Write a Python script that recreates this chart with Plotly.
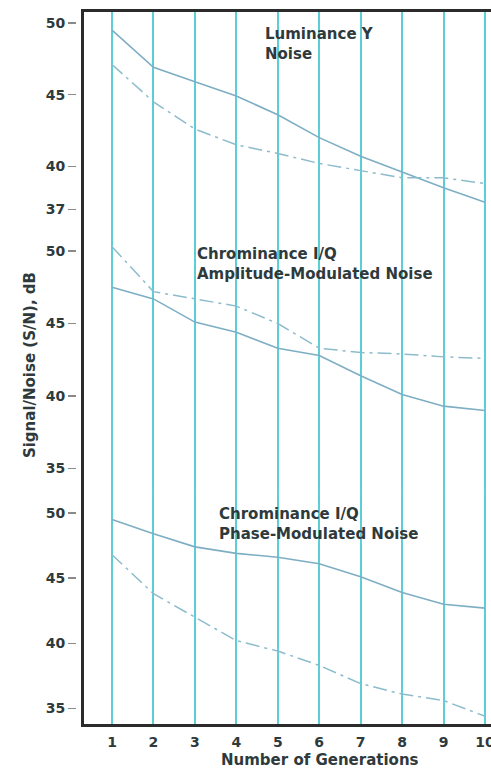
import plotly.graph_objects as go

# ---------------- data ----------------
generations = [1, 2, 3, 4, 5, 6, 7, 8, 9, 10]
gen_labels = ["1", "2", "3", "4", "5", "6", "7", "8", "9", "10"]

lum_solid = [49.5, 46.9, 45.9, 44.9, 43.6, 42.0, 40.7, 39.6, 38.5, 37.5]
lum_dashdot = [47.1, 44.5, 42.6, 41.5, 40.9, 40.2, 39.7, 39.2, 39.2, 38.8]

am_solid = [47.5, 46.7, 45.1, 44.4, 43.3, 42.8, 41.4, 40.1, 39.3, 39.0]
am_dashdot = [50.3, 47.2, 46.7, 46.2, 45.0, 43.3, 43.0, 42.9, 42.7, 42.6]

pm_solid = [49.5, 48.4, 47.4, 46.9, 46.6, 46.1, 45.1, 43.9, 43.0, 42.7]
pm_dashdot = [46.8, 43.8, 42.0, 40.2, 39.4, 38.3, 36.9, 36.1, 35.6, 34.4]

top_ticks = [37, 40, 45, 50]
mid_ticks = [35, 40, 45, 50]
bot_ticks = [35, 40, 45, 50]

panel_titles = [
    "Luminance Y<br>Noise",
    "Chrominance I/Q<br>Amplitude-Modulated Noise",
    "Chrominance I/Q<br>Phase-Modulated Noise",
]

# ---------------- style ----------------
FONT = "DejaVu Sans"
TXT = "#2e3a3c"
GRID = "#5ccfd6"
SPINE = "#2b2b2b"
LINE_SOLID = "#7eaec4"
LINE_DD = "#8cbccc"
DD = "14px,5px,3px,5px"

fig = go.Figure()

# empty trace to create the full-height frame subplot
fig.add_trace(go.Scatter(x=[], y=[], xaxis="x", yaxis="y", showlegend=False, hoverinfo="skip"))

panels = [
    ("y2", lum_solid, lum_dashdot),
    ("y3", am_solid, am_dashdot),
    ("y4", pm_solid, pm_dashdot),
]
for yax, solid, dd in panels:
    fig.add_trace(go.Scatter(x=generations, y=solid, xaxis="x", yaxis=yax, mode="lines",
                             line=dict(color=LINE_SOLID, width=1.6), showlegend=False))
    fig.add_trace(go.Scatter(x=generations, y=dd, xaxis="x", yaxis=yax, mode="lines",
                             line=dict(color=LINE_DD, width=1.5, dash=DD), showlegend=False))

tickfont = dict(family=FONT, size=14, color=TXT, weight="bold")

def panel_axis(domain, rng, ticks):
    return dict(domain=domain, range=rng, anchor="free", position=0,
                tickmode="array", tickvals=ticks, ticktext=[str(t) for t in ticks],
                ticks="outside", ticklen=8, tickwidth=1.5, tickcolor="#8a8a8a",
                showline=False, showgrid=False, zeroline=False,
                tickfont=tickfont, fixedrange=True)

fig.update_layout(
    width=491, height=768,
    margin=dict(l=76, r=0, t=12, b=44, autoexpand=False),
    paper_bgcolor="white", plot_bgcolor="white",
    showlegend=False,
    xaxis=dict(domain=[8 / 415, 1], range=[0.324, 10.145], anchor="y",
               tickmode="array", tickvals=generations, ticktext=gen_labels,
               showgrid=True, gridcolor=GRID, gridwidth=2,
               showline=True, linecolor=SPINE, linewidth=3, mirror=True,
               ticks="", ticklabelstandoff=3, ticklabeloverflow="allow",
               zeroline=False, tickfont=tickfont, fixedrange=True),
    yaxis=dict(domain=[0, 1], range=[0, 1], anchor="x",
               showline=True, linecolor=SPINE, linewidth=3,
               showticklabels=False, ticks="", showgrid=False, zeroline=False,
               fixedrange=True),
    yaxis2=panel_axis([0.6938, 1.0], [35.56, 50.76], top_ticks),
    yaxis3=panel_axis([0.3287, 0.6938], [33.52, 51.45], mid_ticks),
    yaxis4=panel_axis([0.0, 0.3287], [33.80, 51.77], bot_ticks),
)

label_font = dict(family=FONT, size=15, color=TXT, weight="bold")
title_pos = [(0.4506, 0.985), (0.2867, 0.676), (0.3398, 0.311)]
for text, (ax_, ay_) in zip(panel_titles, title_pos):
    fig.add_annotation(text=text, xref="paper", yref="paper", x=ax_, y=ay_,
                       xanchor="left", yanchor="top", align="left",
                       showarrow=False, font=label_font)

fig.add_annotation(text="Signal/Noise (S/N), dB", xref="paper", yref="paper",
                   x=-0.111, y=0.504, xanchor="center", yanchor="middle",
                   textangle=-90, showarrow=False, font=label_font)
fig.add_annotation(text="Number of Generations", xref="paper", yref="paper",
                   x=0.588, y=-0.0506, xanchor="center", yanchor="middle",
                   showarrow=False, font=label_font)

fig.write_html(
    "out.html",
    config={"displayModeBar": False, "staticPlot": True},
    post_script="document.body.style.margin='0';document.body.style.overflow='hidden';",
)
